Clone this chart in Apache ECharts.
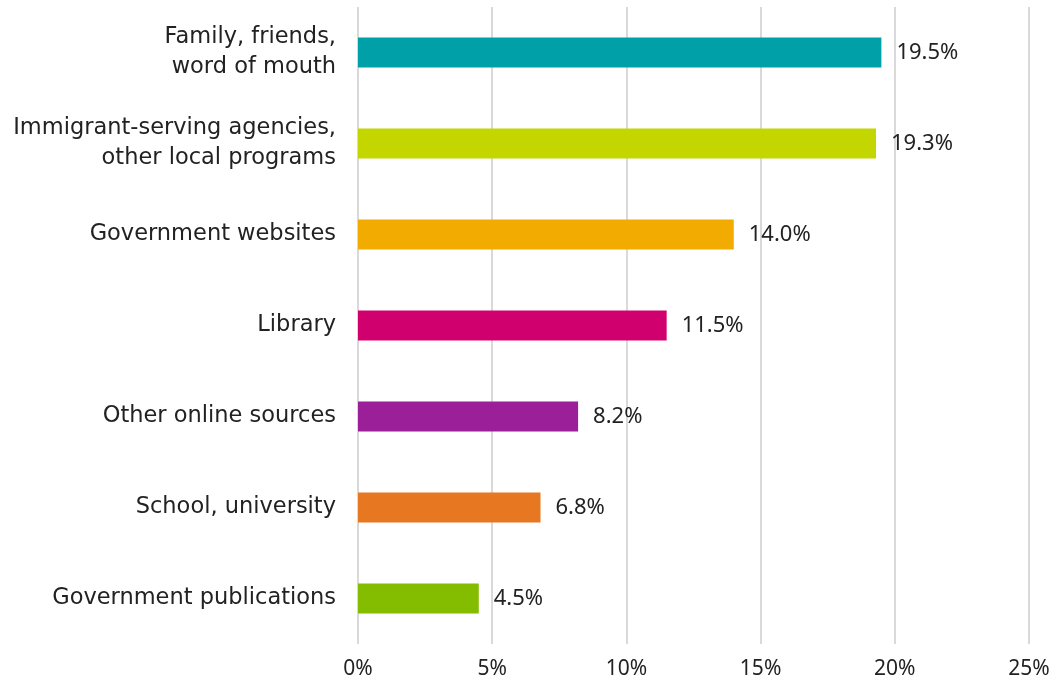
<!DOCTYPE html>
<html><head><meta charset="utf-8">
<script src="https://cdn.jsdelivr.net/npm/echarts@6/dist/echarts.min.js"></script>
<style>html,body{margin:0;padding:0;background:#fff}#c{width:1054px;height:689px}</style>
</head><body><div id="c"></div>
<script>
const categories = ["Family, friends,\nword of mouth","Immigrant-serving agencies,\nother local programs","Government websites","Library","Other online sources","School, university","Government publications"];
const values = [19.5, 19.3, 14.0, 11.5, 8.2, 6.8, 4.5];
const colors = ["#00A0A8","#C4D600","#F2AB00","#D1006F","#9B1F99","#E87722","#84BD00"];
const xTicks = [0,5,10,15,20,25];
const font = "Noto Sans";
const catFont = "DejaVu Sans";
const chart = echarts.init(document.getElementById('c'));
chart.setOption({
  animation:false,
  grid:{left:358,right:25,top:7,bottom:45,containLabel:false},
  xAxis:{type:'value',min:xTicks[0],max:xTicks[xTicks.length-1],interval:5,
    axisLine:{show:false},axisTick:{show:false},
    splitLine:{lineStyle:{color:'#d9d9d9',width:2}},
    axisLabel:{formatter:v=>v+'%',fontFamily:font,fontSize:21,color:'#222',margin:15}},
  yAxis:{type:'category',data:categories,inverse:true,
    axisLine:{show:false},axisTick:{show:false},
    axisLabel:{fontFamily:catFont,fontSize:22.5,color:'#222',margin:22,align:'right',lineHeight:30}},
  series:[{type:'bar',barWidth:30,
    data:values.map((v,i)=>({value:v,itemStyle:{color:colors[i]}})),
    label:{show:true,position:'right',distance:15,formatter:p=>p.value.toFixed(1)+'%',fontFamily:font,fontSize:22,color:'#222'}}]
});
</script></body></html>
